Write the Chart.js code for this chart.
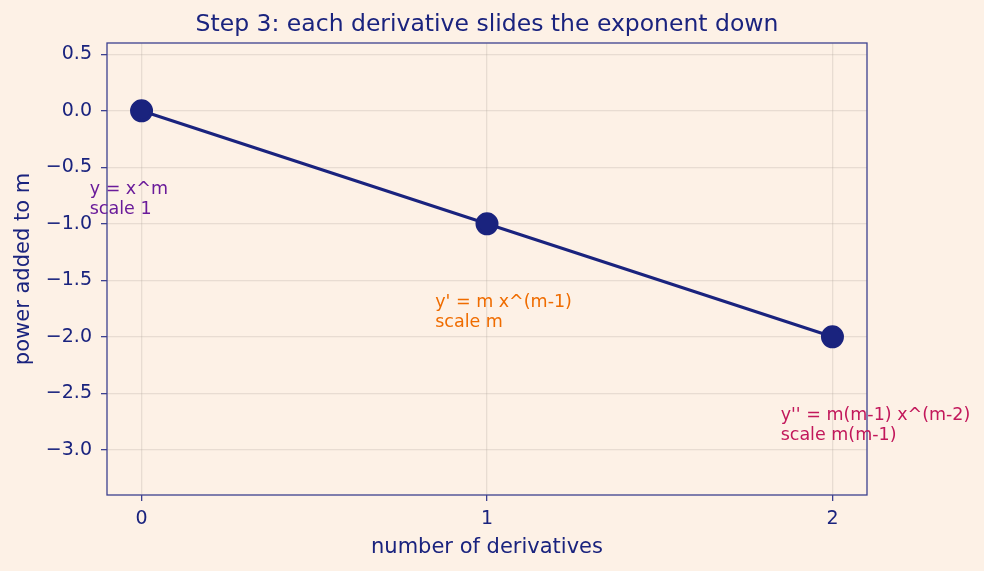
<!DOCTYPE html>
<html>
<head>
<meta charset="utf-8">
<script src="https://cdn.jsdelivr.net/npm/chart.js@4.4.1/dist/chart.umd.min.js"></script>
<style>
  html, body { margin: 0; padding: 0; background: #fdf1e6; }
  #wrap { width: 984px; height: 571px; position: relative; }
</style>
</head>
<body>
<div id="wrap"><canvas id="derivChart" width="984" height="571"></canvas></div>
<script>
// Chart data
const derivCounts = [0, 1, 2];
const powerShift = [0, -1, -2];
const xTicks = [0, 1, 2];
const yTicks = [0.5, 0.0, -0.5, -1.0, -1.5, -2.0, -2.5, -3.0];

// Annotation labels next to each point
const noteLines = [
    ['y = x^m', 'scale 1'],
    ["y' = m x^(m-1)", 'scale m'],
    ["y'' = m(m-1) x^(m-2)", 'scale m(m-1)']
];
const noteColors = ['#6a1b9a', '#ef6c00', '#c2185b'];
const noteOffset = { dx: -0.15, dy: -0.6 };

const NAVY = '#1a237e';
const FONT = "'DejaVu Sans', sans-serif";

function fmtTick(v) {
    return (v < 0 ? '\u2212' : '') + Math.abs(v).toFixed(1);
}

// Draws the frame, title and the text notes
const decorPlugin = {
    id: 'decor',
    afterDraw(chart) {
        const ctx = chart.ctx;
        const area = chart.chartArea;
        const xs = chart.scales.x;
        const ys = chart.scales.y;

        ctx.save();
        ctx.strokeStyle = '#3d4190';
        ctx.lineWidth = 1.3;
        ctx.strokeRect(area.left, area.top, area.right - area.left, area.bottom - area.top);

        ctx.fillStyle = NAVY;
        ctx.font = '23.5px ' + FONT;
        ctx.textAlign = 'center';
        ctx.textBaseline = 'alphabetic';
        ctx.fillText('Step 3: each derivative slides the exponent down', (area.left + area.right) / 2, 31);

        ctx.font = '17.5px ' + FONT;
        ctx.textAlign = 'left';
        ctx.textBaseline = 'top';
        derivCounts.forEach((d, i) => {
            const px = xs.getPixelForValue(d + noteOffset.dx);
            const py = ys.getPixelForValue(powerShift[i] + noteOffset.dy);
            ctx.fillStyle = noteColors[i];
            noteLines[i].forEach((line, j) => {
                ctx.fillText(line, px, py + 2 + j * 20);
            });
        });
        ctx.restore();
    }
};

const ctx = document.getElementById('derivChart');
new Chart(ctx, {
    type: 'line',
    data: {
        datasets: [{
            data: derivCounts.map((d, i) => ({ x: d, y: powerShift[i] })),
            borderColor: NAVY,
            backgroundColor: NAVY,
            borderWidth: 3,
            pointRadius: 10,
            pointHoverRadius: 10,
            tension: 0
        }]
    },
    options: {
        responsive: false,
        animation: false,
        layout: { padding: { top: 43, right: 117, left: 0, bottom: 0 } },
        plugins: {
            legend: { display: false },
            title: { display: false },
            tooltip: { enabled: false }
        },
        scales: {
            x: {
                type: 'linear',
                min: -0.1,
                max: 2.1,
                afterBuildTicks: s => { s.ticks = xTicks.map(v => ({ value: v })); },
                afterFit: s => { s.height = 76; },
                grid: { color: 'rgba(170,160,150,0.25)', tickColor: '#3d4190', tickLength: 6, lineWidth: 1.3 },
                border: { display: false },
                ticks: { color: NAVY, font: { family: FONT, size: 19 }, padding: 7, callback: v => String(v) },
                title: { display: true, text: 'number of derivatives', color: NAVY, font: { family: FONT, size: 21 }, padding: { top: 0, bottom: 11 } }
            },
            y: {
                min: -3.4,
                max: 0.6,
                afterBuildTicks: s => { s.ticks = yTicks.map(v => ({ value: v })); },
                afterFit: s => { s.width = 107; },
                grid: { color: 'rgba(170,160,150,0.25)', tickColor: '#3d4190', tickLength: 6, lineWidth: 1.3 },
                border: { display: false },
                ticks: { color: NAVY, font: { family: FONT, size: 19 }, padding: 9, callback: v => fmtTick(v) },
                title: { display: true, text: 'power added to m', color: NAVY, font: { family: FONT, size: 21 }, padding: { top: 11, bottom: 0 } }
            }
        }
    },
    plugins: [decorPlugin]
});
</script>
</body>
</html>
